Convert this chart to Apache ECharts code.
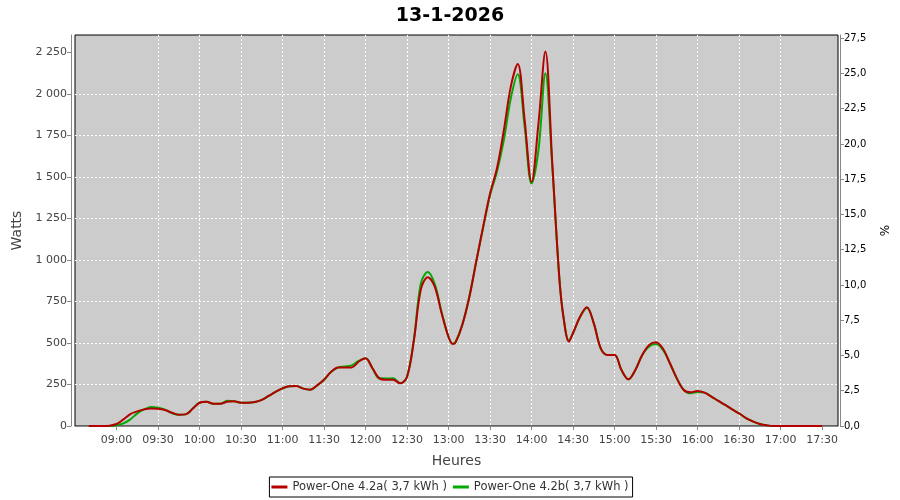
<!DOCTYPE html>
<html>
<head>
<meta charset="utf-8">
<title>13-1-2026</title>
<script src="https://cdn.jsdelivr.net/npm/echarts@6/dist/echarts.min.js"></script>
<style>
  html, body { margin: 0; padding: 0; background: #fff; }
  #chart { width: 900px; height: 500px; }
</style>
</head>
<body>
<div id="chart"></div>
<script>
// heures de mesure (pas de 5 min, + quelques creux relevés)
const times = [
  "08:40","08:45","08:50","08:55","09:00","09:05","09:10","09:15","09:20","09:25",
  "09:30","09:35","09:40","09:45","09:50","09:55","10:00","10:05","10:10","10:15",
  "10:20","10:25","10:30","10:35","10:40","10:45","10:50","10:55","11:00","11:05",
  "11:10","11:15","11:20","11:25","11:30","11:35","11:40","11:45","11:50","11:55",
  "12:00","12:05","12:10","12:15","12:20","12:25","12:30","12:35","12:40","12:45",
  "12:50","12:55","13:00","13:03","13:05","13:10","13:15","13:20","13:25","13:30","13:35",
  "13:40","13:45","13:50","13:55","14:00","14:05","14:10","14:15","14:20","14:23","14:27",
  "14:30","14:35","14:40","14:45","14:50","14:55","15:00","15:05","15:10","15:15",
  "15:20","15:25","15:30","15:35","15:40","15:45","15:50","15:55","16:00","16:05",
  "16:10","16:15","16:20","16:25","16:30","16:35","16:40","16:45","16:50","16:55",
  "17:00","17:05","17:10","17:15","17:20","17:25","17:30"
];
// Power-One 4.2a (W)
const powerA = [
  0, 0, 0, 2, 12, 40, 72, 88, 100, 106,
  104, 96, 80, 68, 70, 104, 140, 146, 134, 134,
  146, 149, 140, 140, 144, 157, 181, 205, 227, 240,
  241, 225, 219, 245, 279, 325, 352, 353, 353, 387,
  408, 348, 287, 279, 279, 257, 297, 518, 823, 896,
  839, 679, 536, 494, 502, 610, 775, 990, 1200, 1400, 1552,
  1783, 2044, 2180, 1843, 1470, 1823, 2255, 1580, 900, 660, 508,
  560, 658, 715, 618, 468, 428, 428, 337, 281, 337,
  428, 488, 504, 465, 378, 287, 217, 203, 211, 201,
  177, 151, 127, 100, 76, 48, 28, 12, 4, 0,
  0, 0, 0, 0, 0, 0, 0
];
// Power-One 4.2b (W)
const powerB = [
  0, 0, 0, 0, 5, 16, 40, 76, 100, 114,
  110, 98, 78, 68, 70, 104, 140, 146, 134, 134,
  152, 149, 140, 140, 144, 157, 181, 205, 227, 240,
  241, 225, 219, 245, 279, 325, 352, 358, 365, 392,
  408, 348, 287, 286, 287, 257, 297, 525, 860, 928,
  856, 685, 536, 496, 504, 612, 778, 990, 1195, 1390, 1532,
  1723, 1974, 2119, 1803, 1460, 1663, 2125, 1560, 900, 660, 515,
  560, 655, 712, 618, 468, 428, 428, 337, 281, 337,
  428, 479, 494, 458, 378, 287, 217, 197, 205, 201,
  177, 151, 127, 100, 76, 48, 28, 12, 4, 0,
  0, 0, 0, 0, 0, 0, 0
];
const xTicks = ["09:00","09:30","10:00","10:30","11:00","11:30","12:00","12:30","13:00",
  "13:30","14:00","14:30","15:00","15:30","16:00","16:30","17:00","17:30"];
const wattTicks = [0, 250, 500, 750, 1000, 1250, 1500, 1750, 2000, 2250];
const pctTicks = [0, 2.5, 5, 7.5, 10, 12.5, 15, 17.5, 20, 22.5, 25, 27.5];

const nameA = "Power-One 4.2a( 3,7 kWh )";
const nameB = "Power-One 4.2b( 3,7 kWh )";

function toMin(s) {
  const p = s.split(":");
  return parseInt(p[0], 10) * 60 + parseInt(p[1], 10);
}
function fmtTime(v) {
  const h = Math.floor(v / 60), m = Math.round(v % 60);
  return (h < 10 ? "0" : "") + h + ":" + (m < 10 ? "0" : "") + m;
}
function fmtWatt(v) {
  return String(Math.round(v)).replace(/\B(?=(\d{3})+(?!\d))/g, " ");
}
function fmtPct(v) {
  return v.toFixed(1).replace(".", ",");
}

const font = "DejaVu Sans";
const axisGray = "#888888";
const gridLine = { show: true, showMinLine: false, showMaxLine: false,
  lineStyle: { color: "#ffffff", type: [2, 2], width: 1 } };

const chart = echarts.init(document.getElementById("chart"));
chart.setOption({
  backgroundColor: "#ffffff",
  animation: false,
  title: {
    text: "13-1-2026",
    left: "center",
    top: 2,
    textStyle: { fontFamily: font, fontSize: 19, fontWeight: "bold", color: "#000" }
  },
  legend: {
    data: [nameA, nameB],
    left: "center",
    top: 477,
    icon: "rect",
    itemWidth: 16,
    itemHeight: 3,
    itemGap: 6,
    padding: [4, 4, 4, 2],
    borderColor: "#000",
    borderWidth: 1,
    backgroundColor: "#fff",
    textStyle: { fontFamily: font, fontSize: 11.5, color: "#333" }
  },
  grid: {
    left: 75, right: 62, top: 35, bottom: 74,
    show: true,
    backgroundColor: "#cccccc",
    borderColor: "#000000",
    borderWidth: 1
  },
  xAxis: {
    type: "value",
    min: 510,
    max: 1061.5,
    offset: 4,
    name: "Heures",
    nameLocation: "middle",
    nameGap: 24,
    nameTextStyle: { fontFamily: font, fontSize: 14, color: "#444" },
    axisLine: { show: true, lineStyle: { color: axisGray } },
    axisTick: { show: true, length: 4, lineStyle: { color: axisGray }, customValues: xTicks.map(toMin) },
    axisLabel: { customValues: xTicks.map(toMin), formatter: fmtTime, margin: 5,
      fontFamily: font, fontSize: 11, color: "#444" },
    splitLine: gridLine
  },
  yAxis: [
    {
      type: "value",
      min: 0,
      max: 2355,
      offset: 4,
      name: "Watts",
      nameLocation: "middle",
      nameGap: 44,
      nameTextStyle: { fontFamily: font, fontSize: 14, color: "#444" },
      axisLine: { show: true, lineStyle: { color: axisGray } },
      axisTick: { show: true, length: 4, lineStyle: { color: axisGray }, customValues: wattTicks },
      axisLabel: { customValues: wattTicks, formatter: fmtWatt, margin: 4,
        fontFamily: font, fontSize: 11, color: "#444" },
      splitLine: gridLine
    },
    {
      type: "value",
      position: "right",
      min: 0,
      max: 27.73,
      offset: 2,
      name: "%",
      nameLocation: "middle",
      nameGap: 40,
      nameTextStyle: { fontFamily: font, fontSize: 12, color: "#000" },
      axisLine: { show: true, lineStyle: { color: axisGray } },
      axisTick: { show: true, length: 4, lineStyle: { color: axisGray }, customValues: pctTicks },
      axisLabel: { customValues: pctTicks, formatter: fmtPct, margin: 4,
        fontFamily: font, fontSize: 10, color: "#000" },
      splitLine: { show: false }
    }
  ],
  series: [
    {
      name: nameB,
      type: "line",
      data: times.map((t, i) => [toMin(t), powerB[i]]),
      smooth: 0.35,
      showSymbol: false,
      lineStyle: { color: "#00aa00", width: 2 },
      itemStyle: { color: "#00aa00" }
    },
    {
      name: nameA,
      type: "line",
      data: times.map((t, i) => [toMin(t), powerA[i]]),
      smooth: 0.35,
      showSymbol: false,
      lineStyle: { color: "#b40000", width: 2 },
      itemStyle: { color: "#b40000" }
    }
  ]
});
</script>
</body>
</html>
